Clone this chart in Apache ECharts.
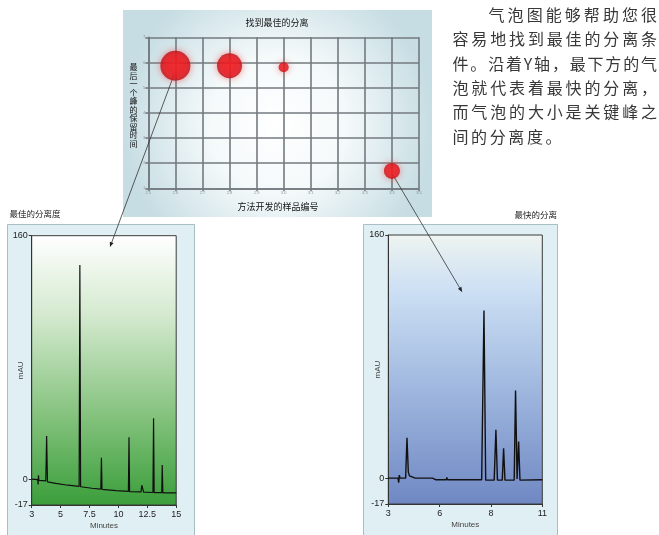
<!DOCTYPE html>
<html><head><meta charset="utf-8">
<script src="https://cdn.jsdelivr.net/npm/echarts@6/dist/echarts.min.js"></script>
<style>html,body{margin:0;padding:0;background:#fff}#c{width:659px;height:535px}</style>
</head><body><div id="c"></div>
<script>
// ---------- data ----------
const bubbleXLabels = ['2.5','2.6','2.7','2.8','2.9','3.0','3.1','3.2','3.3','3.4','3.5'];
const bubbleYLabels = ['1','2','3','4','5','6','7'];
const bubbleX = [1, 3, 5, 9];
const bubbleY = [4.87, 4.87, 4.81, 0.69];
const bubbleSize = [30, 25, 10, 16];

const leftX = [3,3.5,3.53,3.56,3.6,4.17,4.24,4.31,5.0,6.0,6.94,7.0,7.06,8.0,8.74,8.79,8.84,10.0,11.03,11.08,11.13,12.08,12.14,12.24,12.3,13.07,13.12,13.17,13.8,13.84,13.89,15];
const leftY = [0,-0.3,-3.5,2.5,-0.8,-1.2,28.3,-1.8,-2.8,-4.0,-4.8,140.7,-5.0,-6.0,-6.6,14.1,-6.7,-7.6,-8.1,27.5,-8.3,-8.4,-4,-4,-8.6,-8.8,40,-8.9,-8.9,9.3,-9.0,-9];
const leftTickValues = [3, 5.4, 7.8, 10.2, 12.6, 15];
const leftTickLabels = ['3','5','7.5','10','12.5','15'];

const rightX = [3,3.5,3.54,3.57,3.61,3.9,3.97,4.04,4.1,4.2,4.4,5.3,5.45,6.02,6.04,6.07,7.85,7.97,8.06,8.5,8.59,8.67,8.92,8.99,9.06,9.54,9.61,9.69,9.77,9.84,11];
const rightY = [0,0,-3,2,0,0,26.5,4,1.5,0.5,0,0,-1,-1,0.5,-1,-1,110.3,-1.3,-1.3,31.8,-1.3,-1.3,19.7,-1.3,-1.3,57.6,-0.5,24.1,-1.3,-1];
const rightTickValues = [3, 5.667, 8.333, 11];
const rightTickLabels = ['3','6','8','11'];

const yTickValues = [-17, 0, 160];
const yTickLabels = ['-17','0','160'];

const bubbleTitle = '找到最佳的分离';
const bubbleYName = '最后一个峰的保留时间';
const bubbleXName = '方法开发的样品编号';
const leftTitle = '最佳的分离度';
const rightTitle = '最快的分离';
const paragraphLines = ['气泡图能够帮助您很','容易地找到最佳的分离条','件。沿着Y轴，最下方的气','泡就代表着最快的分离，','而气泡的大小是关键峰之','间的分离度。'];
// arrow targets (annotation anchors in chromatogram axis units)
const arrowLeftTarget = [9.5, 152.5];
const arrowRightTarget = [6.84, 122.4];

// ---------- chart ----------
const CJK = '"Noto Sans CJK SC", sans-serif';
const LAT = '"Liberation Sans", Arial, sans-serif';
const chart = echarts.init(document.getElementById('c'), null, {renderer: 'canvas'});

function zip(a, b) { return a.map((v, i) => [v, b[i]]); }
function lookup(vals, labs) {
  return function (v) { const i = vals.findIndex(t => Math.abs(t - v) < 1e-6); return i >= 0 ? labs[i] : ''; };
}
const gridLine = {color: '#737a7f', width: 1.6};

function chromX(idx, vals, labs) {
  return {
    type: 'value', gridIndex: idx, min: vals[0], max: vals[vals.length - 1],
    axisLine: {show: true, onZero: false, lineStyle: {color: '#333', width: 1}},
    axisTick: {show: true, length: 3, customValues: vals, lineStyle: {color: '#333'}},
    axisLabel: {customValues: vals, formatter: lookup(vals, labs), fontSize: 9, color: '#222', fontFamily: LAT, margin: 5},
    splitLine: {show: false},
    name: 'Minutes', nameLocation: 'middle', nameGap: 17, nameMoveOverlap: false,
    nameTextStyle: {fontSize: 8, color: '#444', fontFamily: LAT}
  };
}
function chromY(idx) {
  return {
    type: 'value', gridIndex: idx, min: -17, max: 160,
    axisLine: {show: true, onZero: false, lineStyle: {color: '#333', width: 1}},
    axisTick: {show: true, length: 3, customValues: yTickValues, lineStyle: {color: '#333'}},
    axisLabel: {customValues: yTickValues, formatter: lookup(yTickValues, yTickLabels), fontSize: 9, color: '#222', fontFamily: LAT, margin: 4},
    splitLine: {show: false},
    name: 'mAU', nameLocation: 'middle', nameGap: 7, nameRotate: 90, nameMoveOverlap: false,
    nameTextStyle: {fontSize: 8, color: '#444', fontFamily: LAT}
  };
}

const greenGrad = new echarts.graphic.LinearGradient(0, 0, 0, 1, [
  {offset: 0, color: '#ffffff'}, {offset: 0.3, color: '#d3e9ce'},
  {offset: 0.65, color: '#88c481'}, {offset: 1, color: '#3a9e3a'}]);
const blueGrad = new echarts.graphic.LinearGradient(0, 0, 0, 1, [
  {offset: 0, color: '#eef4f0'}, {offset: 0.2, color: '#cde0f4'},
  {offset: 0.55, color: '#a2bae0'}, {offset: 1, color: '#6f88c3'}]);

const baseGraphics = [
  {id: 'bpanel', type: 'rect', z: -10, shape: {x: 123, y: 10, width: 309, height: 207},
   style: {fill: new echarts.graphic.RadialGradient(0.5, 0.55, 0.75, [
     {offset: 0, color: '#ffffff'}, {offset: 0.45, color: '#f4f9fa'}, {offset: 1, color: '#c6dde3'}])}},
  {id: 'lpanel', type: 'rect', z: -10, shape: {x: 7.5, y: 224.5, width: 187, height: 320},
   style: {fill: '#e0eff3', stroke: '#a8bfc6', lineWidth: 1}},
  {id: 'rpanel', type: 'rect', z: -10, shape: {x: 363.5, y: 224.5, width: 194, height: 320},
   style: {fill: '#e0eff3', stroke: '#a8bfc6', lineWidth: 1}},
  {id: 'btitle', type: 'text', z: 50, style: {text: bubbleTitle, x: 277, y: 23, align: 'center', verticalAlign: 'middle', font: '9px ' + CJK, fill: '#111'}},
  {id: 'bxname', type: 'text', z: 50, style: {text: bubbleXName, x: 278, y: 207, align: 'center', verticalAlign: 'middle', font: '9px ' + CJK, fill: '#111'}},
  {id: 'ltitle', type: 'text', z: 50, style: {text: leftTitle, x: 9.5, y: 213.5, align: 'left', verticalAlign: 'middle', font: '8.5px ' + CJK, fill: '#222'}},
  {id: 'rtitle', type: 'text', z: 50, style: {text: rightTitle, x: 557, y: 214.5, align: 'right', verticalAlign: 'middle', font: '8.5px ' + CJK, fill: '#222'}}
];
// vertical bubble y-axis name, one char per row
bubbleYName.split('').forEach((c, i) => {
  baseGraphics.push({id: 'yn' + i, type: 'text', z: 50,
    style: {text: c, x: 133.5, y: 67 + i * 8.5, align: 'center', verticalAlign: 'middle', font: '8px ' + CJK, fill: '#111'}});
});

// justified paragraph, char by char
(function () {
  const ctx = document.createElement('canvas').getContext('2d');
  const font = '16px ' + CJK;
  ctx.font = font;
  const right = 657, left0 = 452.5, step = 24.3;
  paragraphLines.forEach((line, li) => {
    const chars = line.split('');
    const widths = chars.map(c => ctx.measureText(c).width);
    const left = li === 0 ? 488.5 : left0;
    const total = widths.reduce((a, b) => a + b, 0);
    const last = li === paragraphLines.length - 1;
    const gap = last ? 2.6 : (right - left - total) / (chars.length - 1);
    let x = left;
    chars.forEach((c, ci) => {
      baseGraphics.push({id: 'p' + li + '_' + ci, type: 'text', z: 50,
        style: {text: c, x: x, y: 15 + li * step, align: 'left', verticalAlign: 'middle', font: font, fill: '#383838'}});
      x += widths[ci] + gap;
    });
  });
})();

const option = {
  animation: false,
  backgroundColor: '#ffffff',
  grid: [
    {left: 148.3, top: 37.3, width: 270.7, height: 151, show: false},
    {left: 31.7, top: 235.7, width: 144.5, height: 269.3, show: true, backgroundColor: greenGrad, borderColor: '#3a3a3a', borderWidth: 1},
    {left: 388.3, top: 235, width: 154, height: 269, show: true, backgroundColor: blueGrad, borderColor: '#3a3a3a', borderWidth: 1}
  ],
  xAxis: [
    {type: 'value', gridIndex: 0, min: 0, max: 10, interval: 1,
     axisLine: {show: true, onZero: false, lineStyle: gridLine}, axisTick: {show: true, length: 3, lineStyle: gridLine},
     axisLabel: {formatter: v => bubbleXLabels[Math.round(v)], fontSize: 4, color: '#8a9499', margin: 3},
     splitLine: {show: true, lineStyle: gridLine}},
    chromX(1, leftTickValues, leftTickLabels),
    chromX(2, rightTickValues, rightTickLabels)
  ],
  yAxis: [
    {type: 'value', gridIndex: 0, min: 0, max: 6, interval: 1,
     axisLine: {show: true, onZero: false, lineStyle: gridLine}, axisTick: {show: true, length: 3, lineStyle: gridLine},
     axisLabel: {formatter: v => bubbleYLabels[Math.round(v)], fontSize: 4, color: '#8a9499', margin: 3},
     splitLine: {show: true, lineStyle: gridLine}},
    chromY(1),
    chromY(2)
  ],
  series: [
    {type: 'scatter', xAxisIndex: 0, yAxisIndex: 0, z: 3,
     data: bubbleX.map((x, i) => [x, bubbleY[i], bubbleSize[i]]),
     symbolSize: d => d[2],
     itemStyle: {
       color: new echarts.graphic.RadialGradient(0.5, 0.5, 0.5, [
         {offset: 0, color: '#f2191c'}, {offset: 0.75, color: '#e3121a'}, {offset: 1, color: '#b80d12'}]),
       shadowBlur: 7, shadowColor: 'rgba(240,70,70,0.8)'
     }},
    {type: 'line', xAxisIndex: 1, yAxisIndex: 1, data: zip(leftX, leftY), showSymbol: false, symbol: 'none',
     lineStyle: {color: '#111', width: 1.2}},
    {type: 'line', xAxisIndex: 2, yAxisIndex: 2, data: zip(rightX, rightY), showSymbol: false, symbol: 'none',
     lineStyle: {color: '#111', width: 1.4}}
  ],
  graphic: baseGraphics
};
chart.setOption(option);

// arrows from bubbles to chromatograms
function arrow(id, from, to) {
  const dx = to[0] - from[0], dy = to[1] - from[1];
  const len = Math.sqrt(dx * dx + dy * dy);
  const ux = dx / len, uy = dy / len;
  const L = 5, W = 2;
  const bx = to[0] - ux * L, by = to[1] - uy * L;
  return [
    {id: id + 'l', type: 'line', z: 1, shape: {x1: from[0], y1: from[1], x2: bx, y2: by}, style: {stroke: '#333', lineWidth: 0.8}},
    {id: id + 'h', type: 'polygon', z: 1, shape: {points: [to, [bx - uy * W, by + ux * W], [bx + uy * W, by - ux * W]]}, style: {fill: '#222'}}
  ];
}
const b1 = chart.convertToPixel({seriesIndex: 0}, [bubbleX[0], bubbleY[0]]);
const b4 = chart.convertToPixel({seriesIndex: 0}, [bubbleX[3], bubbleY[3]]);
const t1 = chart.convertToPixel({seriesIndex: 1}, arrowLeftTarget);
const t2 = chart.convertToPixel({seriesIndex: 2}, arrowRightTarget);
chart.setOption({graphic: baseGraphics.concat(
  arrow('a1', [b1[0] - 1, b1[1] + 8], t1),
  arrow('a2', [b4[0] + 1, b4[1] + 4], t2))});
</script></body></html>
